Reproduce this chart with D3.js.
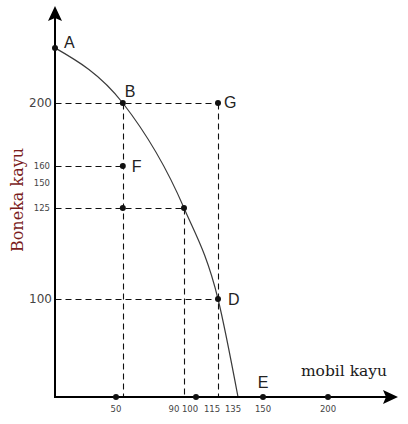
<!DOCTYPE html>
<html><head><meta charset="utf-8">
<script src="https://cdn.jsdelivr.net/npm/d3@7"></script>
<style>body{margin:0;background:#fff}svg{display:block}</style>
</head><body>
<script>
// ---- data ----
const xTicks = [50, 90, 100, 115, 135, 150, 200];
const xTickDots = [50, 100, 150, 200];
const yTicksBig = [100, 200];
const yTicksSmall = [125, 150, 160];
// production possibility curve (mobil kayu, boneka kayu)
const curveX = [0, 54, 90, 115, 135];
const curveY = [235, 200, 125, 100, 0];
// labelled points
const pointNames = ["A", "B", "G", "F", "D", "E"];
const pointX = [0, 54, 115, 54, 115, 150];
const pointY = [235, 200, 200, 160, 100, 0];
// extra unlabelled points
const extraX = [90, 54];
const extraY = [125, 125];
// dashed guide lines: [x1,y1,x2,y2] in data units
const guides = [
  [0, 200, 115, 200], [115, 200, 115, 0], [54, 200, 54, 0],
  [0, 160, 54, 160], [0, 125, 90, 125], [90, 125, 90, 0], [0, 100, 115, 100]
];

const W = 408, H = 424;
const svg = d3.select("body").append("svg").attr("width", W).attr("height", H);

// piecewise (non-proportional) axes as in the original drawing
const x = d3.scaleLinear()
  .domain([0, 50, 90, 100, 115, 135, 150, 200])
  .range([55, 116, 184, 196, 218, 238, 263, 328]);
const y = d3.scaleLinear()
  .domain([0, 100, 125, 150, 160, 200])
  .range([397, 299, 208, 183, 166, 103]);
const crisp = v => Math.round(v) + 0.5;

// guides
svg.append("g").selectAll("line").data(guides).join("line")
  .attr("x1", d => crisp(x(d[0]))).attr("y1", d => crisp(y(d[1])))
  .attr("x2", d => crisp(x(d[2]))).attr("y2", d => crisp(y(d[3])))
  .attr("stroke", "#111").attr("stroke-width", 1.1)
  .attr("stroke-dasharray", "6,4");

// curve
const curvePts = curveX.map((v, i) => [v, curveY[i]]);
svg.append("path").datum(curvePts)
  .attr("d", d3.line().x(d => x(d[0])).y(d => y(d[1])).curve(d3.curveMonotoneX))
  .attr("fill", "none").attr("stroke", "#3a3a3a").attr("stroke-width", 1.2);

// axes
svg.append("line").attr("x1", 55).attr("y1", 14).attr("x2", 55).attr("y2", 397)
  .attr("stroke", "#000").attr("stroke-width", 2);
svg.append("line").attr("x1", 54).attr("y1", 397).attr("x2", 390).attr("y2", 397)
  .attr("stroke", "#000").attr("stroke-width", 2);
// arrowheads
svg.append("path").attr("d", "M55,6 L62,21 L55,18 L48,21 Z").attr("fill", "#000");
svg.append("path").attr("d", "M398,397 L383,404 L386,397 L383,390 Z").attr("fill", "#000");

// x tick labels and dots (crowded labels nudged left as in the original)
const xLabelShift = {90: -10, 100: -6, 115: -6, 135: -5};
svg.append("g").selectAll("text").data(xTicks).join("text")
  .attr("x", d => x(d) + (xLabelShift[d] || 0)).attr("y", 412)
  .attr("text-anchor", "middle")
  .attr("font-family", "DejaVu Sans").attr("font-size", 8.5).attr("fill", "#444")
  .text(d => d);
svg.append("g").selectAll("circle").data(xTickDots).join("circle")
  .attr("cx", d => x(d)).attr("cy", 397).attr("r", 3).attr("fill", "#111");

// y tick labels
svg.append("g").selectAll("text").data(yTicksBig).join("text")
  .attr("x", 52).attr("y", d => y(d)).attr("dy", "0.36em")
  .attr("text-anchor", "end")
  .attr("font-family", "DejaVu Sans").attr("font-size", 12).attr("fill", "#444")
  .text(d => d);
svg.append("g").selectAll("text").data(yTicksSmall).join("text")
  .attr("x", 50).attr("y", d => y(d)).attr("dy", "0.36em")
  .attr("text-anchor", "end")
  .attr("font-family", "DejaVu Sans").attr("font-size", 8.5).attr("fill", "#444")
  .text(d => d);

// points
const pts = pointNames.map((n, i) => ({n, x: pointX[i], y: pointY[i]}));
svg.append("g").selectAll("circle").data(pts.filter(p => p.n !== "E")).join("circle")
  .attr("cx", d => x(d.x)).attr("cy", d => y(d.y)).attr("r", 3).attr("fill", "#111");
svg.append("g").selectAll("circle").data(extraX.map((v, i) => [v, extraY[i]])).join("circle")
  .attr("cx", d => x(d[0])).attr("cy", d => y(d[1])).attr("r", 3).attr("fill", "#111");

const off = {A: [9, 0, "start"], B: [2, -6, "start"], G: [6, 5, "start"],
             F: [9, 6, "start"], D: [10, 6, "start"], E: [0, -9, "middle"]};
svg.append("g").selectAll("text").data(pts).join("text")
  .attr("x", d => x(d.x) + off[d.n][0]).attr("y", d => y(d.y) + off[d.n][1])
  .attr("text-anchor", d => off[d.n][2])
  .attr("font-family", "Liberation Sans").attr("font-size", 16).attr("fill", "#222")
  .text(d => d.n);

// axis titles
svg.append("text").attr("transform", "translate(23,200) rotate(-90)")
  .attr("text-anchor", "middle")
  .attr("font-family", "DejaVu Serif").attr("font-size", 16).attr("fill", "#7a1c1c")
  .text("Boneka kayu");
svg.append("text").attr("x", 344).attr("y", 376).attr("text-anchor", "middle")
  .attr("font-family", "DejaVu Serif").attr("font-size", 15.5).attr("fill", "#1a1a1a")
  .text("mobil kayu");
</script>
</body></html>
